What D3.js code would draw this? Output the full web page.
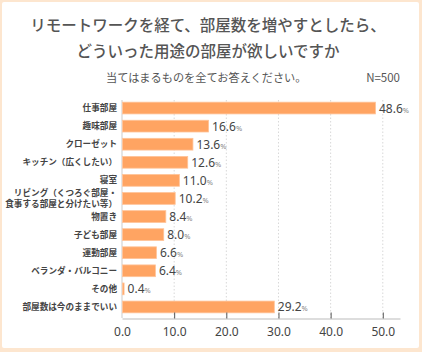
<!DOCTYPE html>
<html>
<head>
<meta charset="utf-8">
<script src="https://cdn.jsdelivr.net/npm/d3@7"></script>
<style>
  html, body { margin: 0; padding: 0; background: #fde6cf; }
  svg { display: block; font-family: "Noto Sans CJK JP", "Noto Sans", sans-serif; }
  .grid line { stroke: #d8d8d8; stroke-dasharray: 1.5 2; }
</style>
</head>
<body>
<svg id="chart" width="422" height="352"></svg>
<script>
const categories = ['仕事部屋', '趣味部屋', 'クローゼット', 'キッチン（広くしたい）', '寝室',
  'リビング（くつろぐ部屋・\n食事する部屋と分けたい等）', '物置き', '子ども部屋', '運動部屋',
  'ベランダ・バルコニー', 'その他', '部屋数は今のままでいい'];
const values = [48.6, 16.6, 13.6, 12.6, 11.0, 10.2, 8.4, 8.0, 6.6, 6.4, 0.4, 29.2];
const ticks = [0, 10, 20, 30, 40, 50];
const titleLines = ['リモートワークを経て、部屋数を増やすとしたら、', 'どういった用途の部屋が欲しいですか'];

const svg = d3.select('#chart');

// white panel inside the peach frame
svg.append('rect').attr('x', 2).attr('y', 2).attr('width', 417).attr('height', 346)
  .attr('rx', 2).attr('fill', '#fff');

svg.selectAll('.title').data(titleLines).join('text')
  .attr('x', 208).attr('y', (d, i) => 31 + i * 26)
  .attr('text-anchor', 'middle').attr('font-size', 15.5).attr('font-weight', 500)
  .attr('fill', '#555').text((d) => d);

svg.append('text').attr('x', 106).attr('y', 82).attr('font-size', 11.2)
  .attr('fill', '#555').text('当てはまるものを全てお答えください。');
svg.append('text').attr('x', 400).attr('y', 82).attr('text-anchor', 'end')
  .attr('font-size', 11.5).attr('fill', '#555').text('N=500');

const x = d3.scaleLinear().domain([0, 53.3]).range([122, 400]);
const y = d3.scaleBand().domain(categories).range([99, 316]).paddingInner(0.35).paddingOuter(0.175);

// dotted grid
svg.append('g').attr('class', 'grid').selectAll('line').data(ticks.slice(1)).join('line')
  .attr('x1', (d) => x(d)).attr('x2', (d) => x(d)).attr('y1', 100).attr('y2', 318);

// left axis line
svg.append('line').attr('x1', x(0)).attr('x2', x(0)).attr('y1', 100).attr('y2', 318)
  .attr('stroke', '#ddd').attr('stroke-width', 1.5);

// bars
svg.append('g').selectAll('rect').data(values).join('rect')
  .attr('x', x(0) + 0.5).attr('y', (d, i) => y(categories[i]))
  .attr('width', (d) => x(d) - x(0) - 0.5).attr('height', y.bandwidth())
  .attr('fill', '#ffa462').attr('stroke', '#ffc398').attr('stroke-width', 0.8);

// value labels
const vl = svg.append('g').selectAll('text').data(values).join('text')
  .attr('x', (d) => x(d) + 3.5).attr('y', (d, i) => y(categories[i]) + y.bandwidth() / 2 + 4.5)
  .attr('font-family', '"Noto Sans", sans-serif').attr('fill', '#444');
vl.append('tspan').attr('font-size', 12).text((d) => d.toFixed(1));
vl.append('tspan').attr('font-size', 7.5).attr('fill', '#888').text('%');

// category labels
const cl = svg.append('g').selectAll('text').data(categories).join('text')
  .attr('text-anchor', 'end').attr('font-size', 8.6).attr('font-weight', 'bold').attr('fill', '#444')
  .attr('y', (d) => y(d) + y.bandwidth() / 2 + 3);
cl.each(function (d) {
  const parts = d.split('\n');
  const t = d3.select(this);
  parts.forEach((p, i) => {
    t.append('tspan').attr('x', 117)
      .attr('dy', i === 0 ? (parts.length > 1 ? -5 : 0) : 11).text(p);
  });
});

// bottom axis
const xAxis = d3.axisBottom(x).tickValues(ticks).tickSize(0).tickPadding(9)
  .tickFormat((d) => d.toFixed(1));
const ax = svg.append('g').attr('transform', 'translate(0,318.5)').call(xAxis);
ax.select('.domain').attr('stroke', '#ddd').attr('stroke-width', 2);
ax.selectAll('text').attr('font-size', 12).attr('fill', '#444')
  .attr('font-family', '"Noto Sans", sans-serif');
ax.selectAll('.tick').filter((d) => d > 0).append('line')
  .attr('y1', -6).attr('y2', 0).attr('stroke', '#555').attr('stroke-width', 1);
</script>
</body>
</html>
